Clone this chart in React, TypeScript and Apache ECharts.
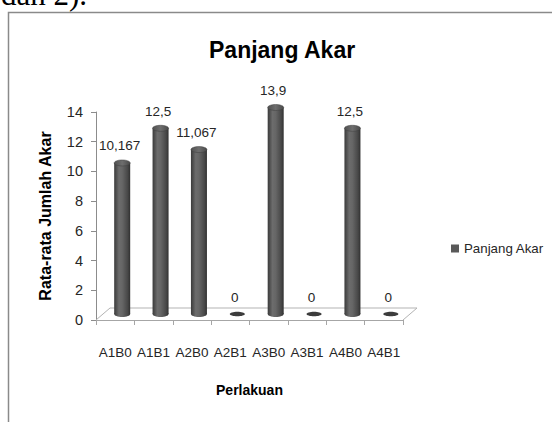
import React, { useEffect, useRef } from "react";
import * as echarts from "echarts";

const categories = ["A1B0", "A1B1", "A2B0", "A2B1", "A3B0", "A3B1", "A4B0", "A4B1"];
const values = [10.167, 12.5, 11.067, 0, 13.9, 0, 12.5, 0];
const yMin = 0;
const yMax = 14;
const yInterval = 2;
const seriesName = "Panjang Akar";
const chartTitle = "Panjang Akar";
const yTitle = "Rata-rata Jumlah Akar";
const xTitle = "Perlakuan";
const captionText = "dan 2).";

const FONT = "'Liberation Sans', Arial, sans-serif";
const DX = 14;
const DY = 12;
const TEXT = "#262626";

const fmt = (v: number) => String(v).replace(".", ",");

export default function App() {
  const ref = useRef<HTMLDivElement>(null);
  useEffect(() => {
    const chart = echarts.init(ref.current!, null, { renderer: "svg" });
    const bodyGrad = () =>
      new echarts.graphic.LinearGradient(0, 0, 1, 0, [
        { offset: 0, color: "#3a3a3a" },
        { offset: 0.3, color: "#6c6c6c" },
        { offset: 0.5, color: "#666666" },
        { offset: 0.85, color: "#474747" },
        { offset: 1, color: "#303030" },
      ]);
    const topGrad = () =>
      new echarts.graphic.LinearGradient(0, 0, 1, 0, [
        { offset: 0, color: "#505050" },
        { offset: 0.5, color: "#6e6e6e" },
        { offset: 1, color: "#4a4a4a" },
      ]);
    chart.setOption({
      animation: false,
      backgroundColor: "#ffffff",
      title: {
        text: chartTitle,
        left: 209,
        top: 38,
        padding: 0,
        textStyle: { fontSize: 23, fontWeight: "bold", fontFamily: FONT, color: "#000", lineHeight: 23 },
      },
      legend: {
        data: [seriesName],
        icon: "rect",
        itemWidth: 8,
        itemHeight: 8,
        left: 451,
        top: 242,
        padding: 0,
        textStyle: { fontSize: 13.3, fontFamily: FONT, color: TEXT },
      },
      grid: { left: 96, top: 112, width: 307, height: 208 },
      xAxis: {
        type: "category",
        data: categories,
        boundaryGap: true,
        axisLine: { show: true, lineStyle: { color: "#a6a6a6", width: 1 } },
        axisTick: { show: true, length: 5, lineStyle: { color: "#a6a6a6" } },
        axisLabel: { margin: 25, fontSize: 13.5, fontFamily: FONT, color: TEXT, interval: 0 },
        splitLine: { show: false },
        name: xTitle,
        nameLocation: "middle",
        nameGap: 63,
        nameTextStyle: { fontSize: 14, fontWeight: "bold", fontFamily: FONT, color: "#000" },
      },
      yAxis: {
        type: "value",
        min: yMin,
        max: yMax,
        interval: yInterval,
        axisLine: { show: true, lineStyle: { color: "#8c8c8c", width: 1 } },
        axisTick: { show: true, length: 5, lineStyle: { color: "#8c8c8c" } },
        axisLabel: { margin: 13, fontSize: 14.5, fontFamily: FONT, color: TEXT },
        splitLine: { show: false },
        name: yTitle,
        nameLocation: "middle",
        nameRotate: 90,
        nameGap: 43,
        nameTextStyle: { fontSize: 16, fontWeight: "bold", fontFamily: FONT, color: "#000" },
      },
      graphic: [
        {
          type: "rect",
          shape: { x: 8.5, y: 12.5, width: 700, height: 700 },
          style: { stroke: "#8a8a8a", lineWidth: 1.5, fill: "none" },
          silent: true,
        },
        {
          type: "text",
          x: 1,
          y: -6,
          style: {
            text: captionText,
            font: "31px 'Liberation Serif', 'Times New Roman', serif",
            fill: "#000",
            verticalAlign: "middle",
          },
          silent: true,
        },
      ],
      series: [
        {
          type: "custom",
          name: "floor",
          silent: true,
          data: [[0, 0]],
          encode: { x: 0, y: 1 },
          renderItem: (params: any, api: any) => {
            const band = api.size([1, 0])[0];
            const p0 = api.coord([0, 0]);
            const p1 = api.coord([categories.length - 1, 0]);
            const L = p0[0] - band / 2;
            const R = p1[0] + band / 2;
            const y = p0[1];
            return {
              type: "polyline",
              shape: { points: [[L, y], [L + DX, y - DY], [R + DX, y - DY], [R, y]] },
              style: { stroke: "#b3b3b3", fill: null, lineWidth: 1 },
            };
          },
        },
        {
          type: "custom",
          name: seriesName,
          itemStyle: { color: "#595959" },
          data: values.map((v, i) => [i, v]),
          encode: { x: 0, y: 1 },
          renderItem: (params: any, api: any) => {
            const i = api.value(0);
            const v = api.value(1);
            const top = api.coord([i, v]);
            const base = api.coord([i, 0]);
            const cx = top[0] + DX / 2;
            const ty = top[1] - DY / 2;
            const by = base[1] - DY / 2;
            const rx = 8;
            const ry = 3;
            const children: any[] = [];
            if (v > 0) {
              children.push({
                type: "ellipse",
                shape: { cx, cy: by, rx, ry },
                style: { fill: bodyGrad() },
              });
              children.push({
                type: "rect",
                shape: { x: cx - rx, y: ty, width: rx * 2, height: by - ty },
                style: { fill: bodyGrad() },
              });
              children.push({
                type: "ellipse",
                shape: { cx, cy: ty, rx, ry },
                style: { fill: topGrad(), stroke: "#3f3f3f", lineWidth: 0.5 },
              });
            } else {
              children.push({
                type: "ellipse",
                shape: { cx, cy: by, rx: 7.5, ry: 2.3 },
                style: { fill: "#3c3c3c" },
              });
            }
            children.push({
              type: "text",
              style: {
                text: fmt(v),
                x: cx - 2.5,
                y: ty - 17,
                align: "center",
                verticalAlign: "middle",
                fontSize: 13.5,
                fontFamily: FONT,
                fill: TEXT,
              },
            });
            return { type: "group", children };
          },
        },
      ],
    });
    return () => chart.dispose();
  }, []);
  return (
    <div
      ref={ref}
      style={{ position: "absolute", left: 0, top: 0, width: 552, height: 422 }}
    />
  );
}
